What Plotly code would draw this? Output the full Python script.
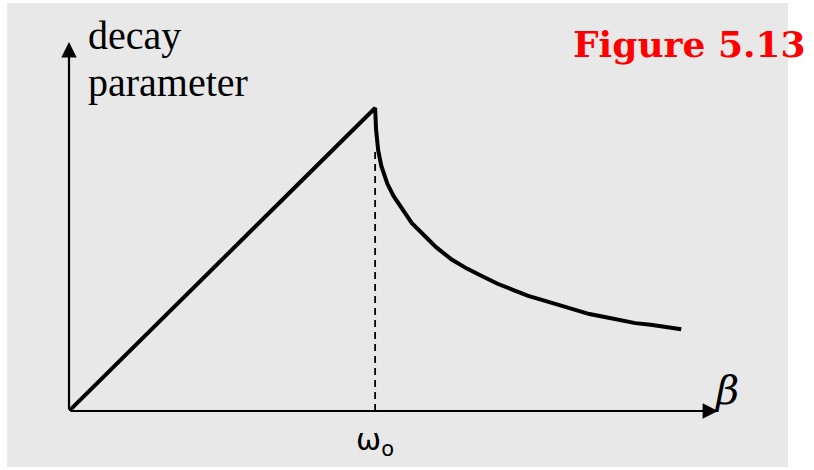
import plotly.graph_objects as go

# Data (in units of omega_0)
rise_beta = [0.0, 1.0]
rise_decay = [0.0, 1.0]
fall_beta = [1.0, 1.003, 1.01, 1.02, 1.03, 1.04, 1.06, 1.08, 1.1, 1.12, 1.15, 1.2, 1.25, 1.3, 1.35,
             1.4, 1.45, 1.5, 1.55, 1.6, 1.65, 1.7, 1.75, 1.8, 1.85, 1.9, 1.95, 2.0]
fall_decay = [1.0, 0.93, 0.86, 0.81, 0.78, 0.75, 0.71, 0.68, 0.65, 0.62, 0.59, 0.54, 0.50, 0.47, 0.445,
              0.42, 0.40, 0.38, 0.365, 0.35, 0.335, 0.32, 0.31, 0.30, 0.29, 0.285, 0.278, 0.27]
omega0 = 1.0
omega0_label = "ω<sub>o</sub>"

W, H = 814, 470
L, R, T, B = 69, 718, 42, 411
XMAX, YMAX = 2.12, 1.218


def px(x):
    return (x - L) / (R - L)


def py(y):
    return (B - y) / (B - T)


fig = go.Figure()
fig.add_trace(go.Scatter(x=rise_beta + fall_beta, y=rise_decay + fall_decay, mode="lines",
                         line=dict(color="black", width=4), hoverinfo="skip"))
fig.add_trace(go.Scatter(x=[omega0, omega0], y=[0, fall_decay[2]], mode="lines",
                         line=dict(color="black", width=1.8, dash="7px,5px"), hoverinfo="skip"))

fig.add_shape(type="rect", xref="paper", yref="paper", x0=px(7), x1=px(788), y0=py(467), y1=py(3),
              fillcolor="#e8e8e8", line=dict(width=0), layer="below")

ann = []
# axes arrows
ann.append(dict(x=XMAX, y=0, ax=0, ay=0, xref="x", yref="y", axref="x", ayref="y", showarrow=True,
                arrowhead=2, arrowsize=1.4, arrowwidth=2.2, arrowcolor="black", text=""))
ann.append(dict(x=0, y=YMAX, ax=0, ay=0, xref="x", yref="y", axref="x", ayref="y", showarrow=True,
                arrowhead=2, arrowsize=1.4, arrowwidth=2.2, arrowcolor="black", text=""))
ann.append(dict(x=px(86), y=py(60), xref="paper", yref="paper", xanchor="left", yanchor="bottom",
                text="decay", showarrow=False,
                font=dict(family="Liberation Serif", size=40, color="black")))
ann.append(dict(x=px(86), y=py(107), xref="paper", yref="paper", xanchor="left", yanchor="bottom",
                text="parameter", showarrow=False,
                font=dict(family="Liberation Serif", size=40, color="black")))
ann.append(dict(x=omega0, y=py(420), xref="x", yref="paper", xanchor="center", yanchor="top",
                text=omega0_label, showarrow=False,
                font=dict(family="DejaVu Sans", size=30, color="black")))
ann.append(dict(x=px(726), y=py(390), xref="paper", yref="paper", xanchor="center", yanchor="middle",
                text="<i>β</i>", showarrow=False,
                font=dict(family="DejaVu Serif", size=40, color="black")))
ann.append(dict(x=px(808), y=py(44), xref="paper", yref="paper", xanchor="right", yanchor="middle",
                text="<b>Figure 5.13</b>", showarrow=False,
                font=dict(family="DejaVu Serif", size=36, color="#ff0000")))

fig.update_layout(
    width=W, height=H,
    margin=dict(l=L, r=W - R, t=T, b=H - B, pad=0),
    paper_bgcolor="white", plot_bgcolor="rgba(0,0,0,0)",
    showlegend=False,
    xaxis=dict(range=[0, XMAX], visible=False, fixedrange=True),
    yaxis=dict(range=[0, YMAX], visible=False, fixedrange=True),
    annotations=ann,
)

fig.write_html("out.html", config={"displayModeBar": False},
               post_script="document.body.style.margin='0px';document.body.style.padding='0px';")
